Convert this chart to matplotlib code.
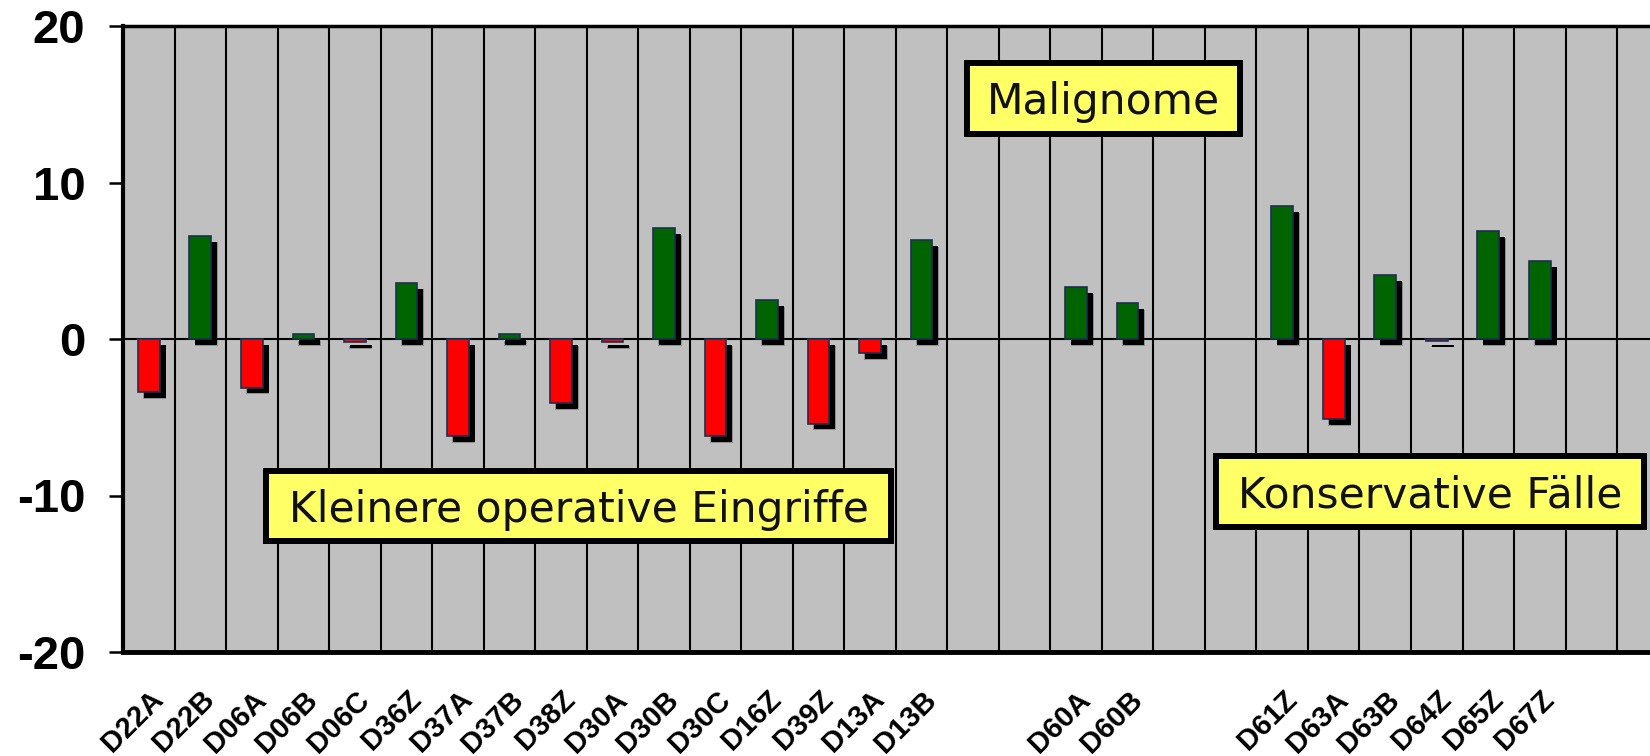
import numpy as np
import matplotlib
matplotlib.use("Agg")
import matplotlib.pyplot as plt
from matplotlib.patches import Rectangle
from matplotlib.transforms import ScaledTranslation

# Kategorien (leere Spalten = Lücken im Diagramm)
cats = ['D22A', 'D22B', 'D06A', 'D06B', 'D06C', 'D36Z', 'D37A', 'D37B',
        'D38Z', 'D30A', 'D30B', 'D30C', 'D16Z', 'D39Z', 'D13A', 'D13B',
        '', '', 'D60A', 'D60B', '', '',
        'D61Z', 'D63A', 'D63B', 'D64Z', 'D65Z', 'D67Z', '', '']
vals = [-3.4, 6.6, -3.1, 0.3, -0.2, 3.6, -6.2, 0.3,
        -4.1, -0.2, 7.1, -6.2, 2.5, -5.4, -0.9, 6.3,
        np.nan, np.nan, 3.3, 2.3, np.nan, np.nan,
        8.5, -5.1, 4.1, -0.1, 6.9, 5.0, np.nan, np.nan]
yticks = [-20, -10, 0, 10, 20]

boxes = [('Malignome', 0.5508, 0.8227, 0.7335, 0.9457),
         ('Kleinere operative Eingriffe', 0.0917, 0.1725, 0.5049, 0.2939),
         ('Konservative Fälle', 0.7138, 0.1949, 0.998, 0.3179)]

vals = np.array(vals, dtype=float)
x = np.arange(len(cats))
colors = ['#006400' if v > 0 else '#ff0000' for v in np.nan_to_num(vals)]

fig = plt.figure(figsize=(16.5, 7.56), dpi=100)
ax = fig.add_axes([123/1650, 1-652/756, 1-123/1650, (652-26)/756])
ax.set_facecolor('#c0c0c0')

w = 0.42
dx, dy = 0.117, 0.38
# Schatten
ax.bar(x + dx, vals, width=w + 0.03, bottom=-dy - 0.05, color='black', alpha=0.25, lw=0, zorder=2)
ax.bar(x + dx, vals, width=w, bottom=-dy, color='black', lw=0, zorder=2.1)
ax.axhline(0, color='black', lw=1.5, zorder=2.5)
ax.bar(x, vals, width=w, color=colors, edgecolor='#1c3050', lw=1.2, zorder=3)

ax.set_xlim(-0.5, (1650-123)/51.52 - 0.5)
ax.set_ylim(-20, 20)

ax.set_xticks(x)
ax.set_xticklabels(cats, rotation=45, ha='right', fontsize=21,
                   fontweight='bold', family='Liberation Sans')
ax.set_xticks(np.arange(0.5, len(cats) - 0.5, 1), minor=True)
ax.tick_params(axis='x', which='both', length=0, pad=24)
ax.grid(which='minor', axis='x', color='black', lw=1.5)
ax.set_axisbelow(True)
for lab in ax.get_xticklabels():
    lab.set_transform(lab.get_transform() + ScaledTranslation(20/100, 0, fig.dpi_scale_trans))

ax.set_yticks(yticks)
ax.set_yticklabels([str(t) for t in yticks], fontsize=34, fontweight='bold',
                   family='Liberation Sans')
ax.tick_params(axis='y', length=10, width=1.8, pad=17)

ax.spines['right'].set_visible(False)
ax.spines['left'].set_linewidth(3)
ax.spines['top'].set_linewidth(2.5)
ax.spines['bottom'].set_linewidth(3.5)

ix, iy = 3/1527, 3/626  # Rahmen nach innen, halbe Linienbreite
for txt, x0, y0, x1, y1 in boxes:
    ax.add_patch(Rectangle((x0 + ix, y0 + iy), x1 - x0 - 2*ix, y1 - y0 - 2*iy,
                           transform=ax.transAxes, facecolor='#ffff66',
                           edgecolor='black', lw=4.3, zorder=5, clip_on=False))
    ax.text((x0 + x1) / 2, (y0 + y1) / 2 - 16/626, txt, transform=ax.transAxes,
            ha='center', va='baseline', fontsize=30.5, family='DejaVu Sans',
            color='#111111', zorder=6)

fig.savefig('out.png', dpi=100)
